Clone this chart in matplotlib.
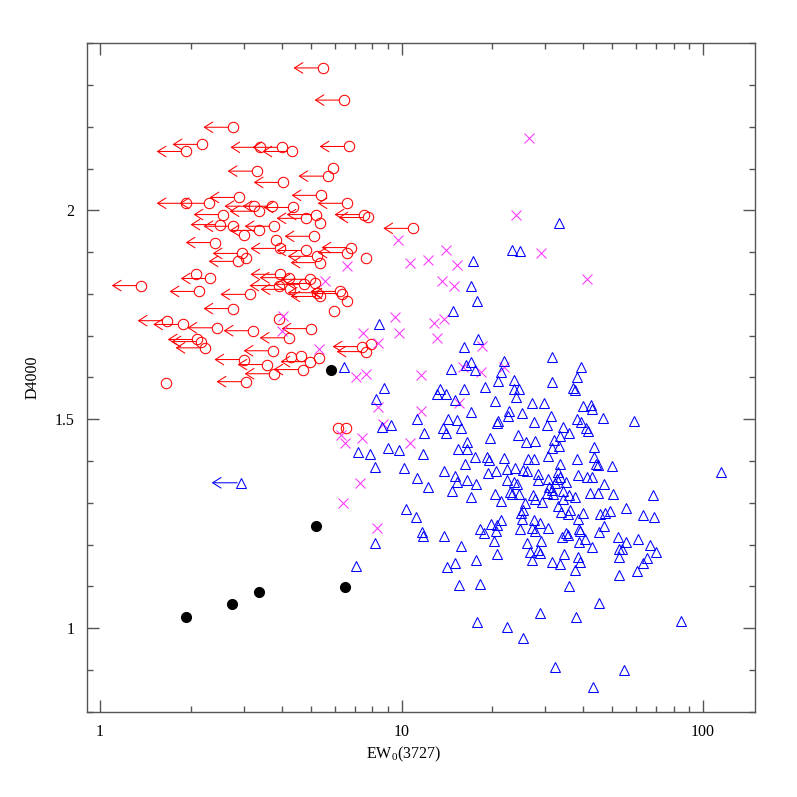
import matplotlib
matplotlib.use('Agg')
import matplotlib.pyplot as plt
from matplotlib.ticker import LogLocator, MultipleLocator, FixedLocator, FixedFormatter, NullFormatter

plt.rcParams['font.family'] = ['Liberation Serif', 'DejaVu Serif']

# red circles with upper limits on EW (drawn with left arrows)
lim_ew = [5.49, 6.45, 2.76, 2.18, 1.93, 3.39, 4.01, 4.33, 6.70, 5.70, 3.32, 4.05, 5.41, 2.89,
          2.30, 1.93, 6.60, 3.24, 3.72, 4.37, 3.37, 2.56, 5.21, 4.82, 2.50, 2.76, 3.78, 3.37,
          5.13, 2.41, 6.80, 3.95, 4.82, 6.60, 2.96, 5.25, 2.87, 5.37, 7.51, 7.74, 10.9, 3.95,
          2.32, 4.24, 4.97, 4.75, 5.17, 1.37, 3.92, 4.27, 2.13, 5.25, 6.25, 5.37, 6.35, 3.14,
          2.76, 1.67, 1.88, 2.44, 5.01, 3.22, 4.24, 2.10, 2.16, 2.23, 3.75, 3.00, 4.97, 3.58,
          4.71, 3.78, 3.05, 7.40, 7.63]
lim_d = [2.341, 2.264, 2.199, 2.158, 2.141, 2.151, 2.151, 2.141, 2.153, 2.082, 2.094, 2.067,
         2.036, 2.031, 2.017, 2.017, 2.017, 2.010, 2.010, 2.007, 1.998, 1.990, 1.990, 1.981,
         1.966, 1.962, 1.962, 1.952, 1.938, 1.923, 1.911, 1.909, 1.904, 1.899, 1.897, 1.890,
         1.878, 1.875, 1.990, 1.983, 1.957, 1.847, 1.837, 1.839, 1.835, 1.823, 1.825, 1.820,
         1.820, 1.811, 1.806, 1.803, 1.806, 1.794, 1.801, 1.799, 1.765, 1.736, 1.727, 1.719,
         1.717, 1.712, 1.695, 1.691, 1.686, 1.671, 1.664, 1.643, 1.638, 1.631, 1.619, 1.609,
         1.590, 1.674, 1.662]

# red circles without arrows
circ_ew = [5.93, 5.37, 3.00, 3.84, 3.05, 7.63, 2.08, 6.60, 5.97, 3.92, 4.30, 4.64, 5.33,
           1.66, 7.92, 6.16, 6.55]
circ_d = [2.101, 1.969, 1.942, 1.930, 1.887, 1.885, 1.847, 1.782, 1.758, 1.741, 1.650,
          1.652, 1.647, 1.588, 1.681, 1.480, 1.480]

# magenta crosses
cross_ew = [26.5, 24.0, 29.0, 41.2, 14.06, 12.25, 10.67, 15.28, 9.74, 6.60, 5.58, 13.63,
            14.94, 9.52, 12.83, 13.84, 4.05, 4.01, 5.33, 7.45, 9.81, 8.36, 13.12, 18.50,
            7.07, 7.63, 11.61, 16.0, 18.36, 21.9, 8.36, 15.52, 11.61, 8.68, 6.30, 6.50,
            7.40, 10.67, 7.29, 6.40, 8.29]
cross_d = [2.173, 1.990, 1.899, 1.835, 1.904, 1.882, 1.873, 1.870, 1.928, 1.868, 1.830,
           1.830, 1.820, 1.746, 1.731, 1.741, 1.748, 1.712, 1.669, 1.707, 1.707, 1.683,
           1.695, 1.676, 1.602, 1.609, 1.607, 1.624, 1.614, 1.626, 1.530, 1.540, 1.520,
           1.489, 1.463, 1.444, 1.456, 1.444, 1.348, 1.300, 1.240]

# blue triangles
tri_ew = [33.3, 23.26, 24.73, 17.27, 17.01, 17.81, 14.83, 8.42, 16.12, 17.95, 6.45, 14.60,
          16.37, 17.01, 17.54, 21.89, 21.39, 20.90, 23.62, 18.93, 16.12, 13.42, 13.12, 14.06,
          15.05, 8.75, 8.23, 23.62, 23.98, 20.43, 17.01, 22.73, 22.56, 14.27, 15.28, 11.26,
          20.90, 20.74, 15.76, 13.73, 14.06, 9.23, 8.62, 11.88, 19.67, 16.50, 24.35, 9.02,
          9.81, 7.17, 7.86, 11.79, 15.40, 16.50, 17.54, 19.22, 21.89, 8.17, 10.19, 11.26,
          12.25, 13.84, 15.05, 15.28, 14.71, 16.25, 16.50, 17.67, 17.01, 19.52, 19.37, 20.59,
          22.39, 23.80, 22.39, 23.62, 24.17, 20.43, 21.39, 22.91, 23.26, 10.35, 11.18, 11.70,
          11.79, 13.84, 18.22, 18.78, 19.82, 20.74, 21.39, 20.59, 24.73, 20.28, 15.76, 20.74,
          17.67, 14.16, 15.05, 8.17, 7.07, 15.52, 18.22, 31.58, 39.40, 31.58, 38.22, 24.54,
          37.07, 37.64, 27.10, 29.70, 40.01, 42.52, 42.85, 25.11, 31.34, 46.61, 59.06, 27.52,
          30.39, 38.22, 39.40, 34.34, 40.93, 41.56, 35.95, 33.56, 25.89, 27.73, 32.06, 31.58,
          33.31, 43.51, 30.62, 38.22, 43.51, 26.29, 27.52, 33.56, 44.19, 44.87, 49.93, 114.7,
          25.30, 26.09, 28.37, 33.06, 38.51, 41.25, 42.85, 28.37, 30.62, 32.81, 33.56, 35.14,
          32.31, 46.96, 30.86, 31.58, 24.54, 30.39, 31.82, 34.34, 35.95, 37.64, 42.20, 44.87,
          50.31, 68.28, 27.31, 27.73, 29.25, 34.34, 25.69, 33.06, 25.30, 24.92, 33.82, 36.23,
          35.68, 40.01, 45.55, 47.33, 49.17, 55.55, 63.25, 68.80, 25.11, 27.52, 38.51, 28.81,
          46.96, 27.10, 27.73, 30.62, 38.81, 39.10, 45.21, 35.14, 34.08, 35.68, 40.62, 52.26,
          60.89, 26.09, 29.03, 38.81, 55.55, 66.73, 42.85, 28.37, 52.66, 53.89, 69.85, 26.69,
          28.81, 34.60, 38.51, 52.66, 65.22, 27.10, 31.58, 33.56, 39.10, 63.25, 37.64, 60.43,
          52.66, 35.95, 45.21, 28.81, 37.93, 84.5, 17.81, 22.39, 25.30, 32.31, 54.71, 43.18]
tri_d = [1.971, 1.904, 1.902, 1.880, 1.818, 1.782, 1.758, 1.727, 1.674, 1.691, 1.624, 1.621,
         1.631, 1.638, 1.619, 1.640, 1.612, 1.592, 1.595, 1.578, 1.573, 1.573, 1.561, 1.561,
         1.547, 1.576, 1.549, 1.573, 1.554, 1.544, 1.518, 1.520, 1.508, 1.501, 1.499, 1.501,
         1.496, 1.492, 1.480, 1.480, 1.468, 1.487, 1.482, 1.468, 1.456, 1.446, 1.463, 1.432,
         1.427, 1.422, 1.417, 1.417, 1.429, 1.429, 1.410, 1.410, 1.408, 1.386, 1.384, 1.360,
         1.338, 1.376, 1.365, 1.350, 1.329, 1.393, 1.355, 1.345, 1.314, 1.403, 1.372, 1.376,
         1.381, 1.384, 1.355, 1.350, 1.345, 1.321, 1.305, 1.326, 1.321, 1.285, 1.266, 1.230,
         1.221, 1.221, 1.237, 1.228, 1.249, 1.247, 1.259, 1.233, 1.237, 1.209, 1.197, 1.177,
         1.163, 1.146, 1.156, 1.204, 1.149, 1.103, 1.106, 1.650, 1.626, 1.590, 1.600, 1.573,
         1.576, 1.571, 1.540, 1.540, 1.532, 1.535, 1.525, 1.516, 1.508, 1.504, 1.496, 1.494,
         1.487, 1.501, 1.494, 1.482, 1.480, 1.472, 1.468, 1.460, 1.446, 1.448, 1.451, 1.432,
         1.436, 1.434, 1.412, 1.405, 1.410, 1.405, 1.405, 1.393, 1.393, 1.391, 1.388, 1.374,
         1.379, 1.376, 1.369, 1.374, 1.367, 1.362, 1.362, 1.355, 1.357, 1.357, 1.362, 1.350,
         1.348, 1.345, 1.338, 1.331, 1.321, 1.324, 1.321, 1.329, 1.319, 1.314, 1.324, 1.324,
         1.321, 1.319, 1.319, 1.309, 1.302, 1.309, 1.300, 1.293, 1.283, 1.276, 1.278, 1.283,
         1.273, 1.276, 1.273, 1.276, 1.281, 1.288, 1.271, 1.266, 1.261, 1.259, 1.261, 1.252,
         1.245, 1.240, 1.233, 1.240, 1.237, 1.233, 1.230, 1.228, 1.218, 1.223, 1.213, 1.218,
         1.213, 1.204, 1.209, 1.206, 1.206, 1.199, 1.194, 1.187, 1.189, 1.189, 1.182, 1.182,
         1.180, 1.177, 1.170, 1.170, 1.168, 1.163, 1.158, 1.153, 1.158, 1.156, 1.139, 1.137,
         1.127, 1.101, 1.060, 1.036, 1.026, 1.017, 1.014, 1.002, 0.976, 0.906, 0.899, 0.859]

# blue triangle with an upper limit
tri_lim_ew = [2.94]
tri_lim_d = [1.348]

# black filled dots
dot_ew = [1.93, 2.74, 3.37, 5.20, 6.49, 5.84]
dot_d = [1.026, 1.058, 1.086, 1.245, 1.098, 1.619]

arrow_factor = 1.253  # arrow spans ~0.1 dex to the left

fig = plt.figure(figsize=(7.97, 7.97), dpi=100)
ax = fig.add_axes([0.1088, 0.1070, 0.8389, 0.8387])
ax.set_xscale('log')
ax.set_xlim(0.903, 149.1)
ax.set_ylim(0.8, 2.4)


def draw_arrows(xs, ys, color, shrink):
    for x, y in zip(xs, ys):
        ax.annotate('', xy=(x / arrow_factor, y), xytext=(x, y),
                    arrowprops=dict(arrowstyle='->,head_length=0.6,head_width=0.38',
                                    color=color, lw=0.75, shrinkA=shrink, shrinkB=0,
                                    mutation_scale=10), zorder=2)


draw_arrows(lim_ew, lim_d, 'red', 3.6)
draw_arrows(tri_lim_ew, tri_lim_d, 'blue', 3.0)

ax.plot(lim_ew, lim_d, 'o', ms=7.5, mfc='none', mec='red', mew=0.75, ls='none', zorder=3)
ax.plot(circ_ew, circ_d, 'o', ms=7.5, mfc='none', mec='red', mew=0.75, ls='none', zorder=3)
ax.plot(cross_ew, cross_d, 'x', ms=6.5, mec='#ff33ff', mew=0.75, ls='none', zorder=3)
ax.plot(tri_ew, tri_d, '^', ms=6.5, mfc='none', mec='blue', mew=0.75, ls='none', zorder=3)
ax.plot(tri_lim_ew, tri_lim_d, '^', ms=6.5, mfc='none', mec='blue', mew=0.75, ls='none', zorder=3)
ax.plot(dot_ew, dot_d, 'o', ms=7, color='black', ls='none', zorder=4)

ax.xaxis.set_major_locator(FixedLocator([1, 10, 100]))
ax.xaxis.set_major_formatter(FixedFormatter(['1', '10', '100']))
ax.xaxis.set_minor_locator(LogLocator(base=10, subs=range(2, 10)))
ax.xaxis.set_minor_formatter(NullFormatter())
ax.yaxis.set_major_locator(FixedLocator([1, 1.5, 2]))
ax.yaxis.set_major_formatter(FixedFormatter(['1', '1.5', '2']))
ax.yaxis.set_minor_locator(MultipleLocator(0.1))

ax.tick_params(which='both', direction='in', top=True, right=True, color='#555555',
               width=1, labelsize=11.5, pad=9)
ax.tick_params(which='major', length=8.5)
ax.tick_params(which='minor', length=4)
for sp in ax.spines.values():
    sp.set_color('#555555')
    sp.set_linewidth(1)

ax.set_xlabel('EW$_\\mathregular{0}$(3727)', fontsize=11.5)
ax.xaxis.set_label_coords(0.473, -0.05)
ax.set_ylabel('D4000', fontsize=11.5, labelpad=10)

fig.savefig('out.png', dpi=100)
